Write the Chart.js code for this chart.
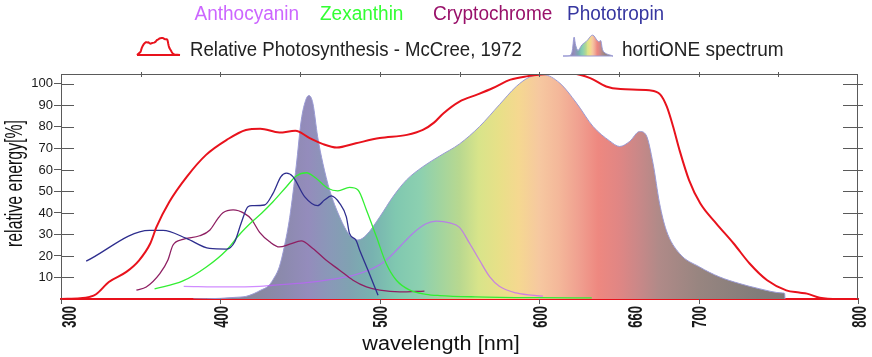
<!DOCTYPE html>
<html><head><meta charset="utf-8">
<script src="https://cdn.jsdelivr.net/npm/chart.js@4/dist/chart.umd.min.js"></script>
<style>html,body{margin:0;padding:0;background:#fff;overflow:hidden}canvas{display:block}</style>
</head><body>
<canvas id="c" width="872" height="357"></canvas>
<script>
// ---------- data ----------
const xTickLabels = [300, 400, 500, 600, 660, 700, 800];
const yTickValues = [10, 20, 30, 40, 50, 60, 70, 80, 90, 100];
const legendTop = ['Anthocyanin', 'Zexanthin', 'Cryptochrome', 'Phototropin'];
const legendMcCree = 'Relative Photosynthesis - McCree, 1972';
const legendSpectrum = 'hortiONE spectrum';
const xTitle = 'wavelength [nm]';
const yTitle = 'relative energy[%]';

const mccreeNm  = [300,312,318,322,330,341,349,356,360,368,379,391,404,416,425,437,447,456,464,473,485,500,517,527,534,540,550,561,571,582,592,609,621,632,642,651,669,676,680,684,688,694,701,711,722,732,743,755,763,768,776,788,800];
const mccreeVal = [0,0.3,1,2.2,7.9,12.6,18,25.8,33.6,45.2,56.9,67,74,78.6,79.2,77.4,78.2,74.8,72.1,70.4,72.4,74.8,76.3,78.6,82,86.4,91.8,95,98.1,102,103.5,104.7,104.7,102.7,98.8,97.6,97,95,89.5,80.2,69.3,55.3,44.5,35.2,25.8,16.5,8.7,4,3,2.5,0.6,0,0];

const spectrumNm  = [383,400,410,416,421,425,430,433,437,440,443.5,447.6,450.7,453.8,455.6,458,461,464.3,468.5,474.8,481,486.3,491.5,500,508.3,516.7,527,537.6,550,562.6,575,585.6,594,602.4,612.9,623.4,633.8,644.2,650.5,656.8,663,667,671.4,675.5,679.7,688,700.6,713,725.6,738,752.8,754,754.2];
const spectrumVal = [0,0.3,0.8,1.2,2.5,4,6,9,15,24,38,62,83,93,94.6,91,75.5,63,50.7,38.2,29.7,27.4,29.7,38.2,47.6,55.3,61.5,66.5,72.1,80.2,90.3,98.8,103.2,104.3,100.4,91.1,80.2,73.5,70.9,73.3,77.9,76.3,63.1,44.5,32,21.2,14.9,10.3,7.2,4.8,2.8,2.6,0];

const phototropinNm  = [315.8,355.6,364,378.6,393.2,403.8,409,413,417.3,420,427.7,433,438,441.4,445.5,452.8,461,465.3,469.5,474.8,479,481,485,487.4,492.6,498.9];
const phototropinVal = [17.6,31.9,31.9,28.2,23.5,23.2,26.6,35.2,42.9,43.4,43.7,49.1,56.9,58.5,56.9,47.6,43.4,46,47.9,44.5,38.2,30.5,27.4,22.7,13.4,1.7];

const zexanthinNm  = [358.7,376.5,391.2,403.8,412,420,426,433,441.4,447.6,454,460,467.4,473.7,481,486.3,491.6,497.9,504,510.4,518.8,529,537.6,560,600,633];
const zexanthinVal = [4.7,8.4,14.9,22.7,30,36,40,45.2,52.2,57.2,58.7,56.1,51.5,50.3,51.9,50.7,41.4,28.9,16.5,8.7,4.1,2.2,1.6,1,0.6,0.5];

const cryptochromeNm  = [347.3,353.5,362,367,370.2,376.5,387,393.3,398.5,401.6,408,415,419.5,424.6,430.9,437,443.5,450.7,458,466.4,474.8,483.2,491.6,500,512.5,528];
const cryptochromeVal = [4.1,5.6,11.8,18,25,27.7,29.4,32,37.5,40.1,41.4,39.8,37,31,26.6,24.2,25.5,27,23.5,18,13.4,8.7,5.6,4.1,3.3,3.7];

const anthocyaninNm  = [377,404,424.6,433,454,468.5,483.2,495.7,504,512.4,520.7,529,535.4,543.8,550,556.4,562.6,569,575,585.6,602.3];
const anthocyaninVal = [5.9,5.6,5.9,6.4,7.6,9,11,14.2,18,24.2,30.5,35,36.2,35.4,33.3,25.8,18,10.3,5.9,2.8,1.3];

// ---------- styles ----------
const FONT = '"Liberation Sans", Arial, sans-serif';
const colAntho = 'rgba(190,95,255,0.72)';
const colZex = '#33ee33';
const colCrypto = '#8e1f62';
const colPhoto = '#2e2e8e';
const colRed = '#e8121c';
const legendColors = ['#cc66ff', '#33ff33', '#99116a', '#3636a0'];
const gradStops = [
  [380,'#7c7a92'],[420,'#88889e'],[440,'#8c8aae'],[455,'#948cbc'],[468,'#8a98b8'],
  [481,'#80a2b2'],[495,'#78b2b0'],[510,'#80c8b0'],[525,'#8cd0b0'],[537,'#a0d4a0'],
  [550,'#b8d890'],[562,'#d8e48a'],[575,'#e8e088'],[587,'#f5d890'],[600,'#f6c8a0'],
  [612,'#f4b89a'],[625,'#f0a090'],[637,'#ee8880'],[650,'#e08684'],[663,'#c88888'],
  [675,'#b08a88'],[700,'#988580'],[737,'#827c7a'],[760,'#7a7878']
];

const pts = (xs, ys) => xs.map((v, i) => ({x: v, y: ys[i]}));

function makeGradient(ctx, x0, x1, nmMin, nmMax) {
  const g = ctx.createLinearGradient(x0, 0, x1, 0);
  gradStops.forEach(([nm, c]) => {
    const t = (nm - nmMin) / (nmMax - nmMin);
    if (t >= 0 && t <= 1) g.addColorStop(t, c);
  });
  return g;
}

function txt(ctx, s, x, y, o) {
  ctx.save();
  ctx.translate(x, y);
  if (o.rot) ctx.rotate(o.rot);
  ctx.scale(o.sx || 1, 1);
  ctx.font = o.font;
  ctx.fillStyle = o.color || '#222';
  ctx.textAlign = o.align || 'left';
  ctx.textBaseline = o.baseline || 'alphabetic';
  ctx.fillText(s, 0, 0);
  ctx.restore();
}

const decor = {
  id: 'decor',
  afterDraw(chart) {
    const {ctx, chartArea: a, scales: {x, y}} = chart;
    ctx.save();
    ctx.strokeStyle = '#5a5a5a';
    ctx.lineWidth = 1;
    const line = (x1, y1, x2, y2) => { ctx.beginPath(); ctx.moveTo(x1, y1); ctx.lineTo(x2, y2); ctx.stroke(); };
    // top & right borders
    line(a.left, a.top + 0.5, a.right, a.top + 0.5);
    line(a.right - 0.5, a.top, a.right - 0.5, a.bottom);
    // y ticks (inner left, right side)
    yTickValues.forEach(v => {
      const py = Math.round(y.getPixelForValue(v)) + 0.5;
      line(a.left, py, a.left + 13, py);
      line(a.right - 15, py, a.right + 5, py);
    });
    // top ticks
    for (let nm = 350; nm <= 750; nm += 50) {
      const px = Math.round(x.getPixelForValue(nm)) + 0.5;
      line(px, a.top - 2, px, a.top + 3);
    }
    // bottom ticks
    for (let nm = 300; nm <= 800; nm += 100) {
      const px = Math.round(x.getPixelForValue(nm)) + 0.5;
      line(px, a.bottom, px, a.bottom + 5);
    }
    // x tick labels (rotated, condensed)
    xTickLabels.forEach(v => {
      const px = x.getPixelForValue(v) + (v === 300 ? 7 : 0);
      txt(ctx, String(v), px + 7.5, a.bottom + 7, {font: 'bold 21px ' + FONT, sx: 0.62, rot: -Math.PI / 2, align: 'right', color: '#1a1a1a'});
    });
    // axis titles
    txt(ctx, xTitle, 441, 350, {font: '20px ' + FONT, sx: 1.08, align: 'center', color: '#111'});
    txt(ctx, yTitle, 21.8, 183.5, {font: '23px ' + FONT, sx: 0.69, rot: -Math.PI / 2, align: 'center', color: '#111'});
    // legend row 1
    const lx = [194.5, 320, 433, 567];
    legendTop.forEach((s, i) => txt(ctx, s, lx[i], 20, {font: '20px ' + FONT, sx: 0.95, color: legendColors[i]}));
    // legend row 2
    txt(ctx, legendMcCree, 190, 56, {font: '20px ' + FONT, sx: 0.93, color: '#222'});
    txt(ctx, legendSpectrum, 622, 56, {font: '20px ' + FONT, sx: 0.95, color: '#222'});
    // McCree icon
    const mapIcon = (nm, v, x0, x1, n0, n1, yb, yt) => [x0 + (nm - n0) / (n1 - n0) * (x1 - x0), yb - v / 105 * (yb - yt)];
    ctx.strokeStyle = colRed; ctx.lineWidth = 2;
    ctx.beginPath();
    ctx.moveTo(137, 55);
    mccreeNm.forEach((nm, i) => {
      if (nm < 345 || nm > 770) return;
      const [px, py] = mapIcon(nm, mccreeVal[i], 140, 175, 345, 770, 55, 38);
      ctx.lineTo(px, py);
    });
    ctx.lineTo(180, 55);
    ctx.lineTo(137, 55);
    ctx.stroke();
    // spectrum icon
    ctx.beginPath();
    ctx.moveTo(563, 56);
    spectrumNm.forEach((nm, i) => {
      const [px, py] = mapIcon(nm, spectrumVal[i], 565, 612, 383, 755, 56, 35);
      ctx.lineTo(px, py);
    });
    ctx.lineTo(613, 56);
    ctx.closePath();
    ctx.fillStyle = makeGradient(ctx, 565 + (380 - 383) / (755 - 383) * 47, 565 + (760 - 383) / (755 - 383) * 47, 380, 760);
    ctx.fill();
    ctx.strokeStyle = '#9a9ad4'; ctx.lineWidth = 1;
    ctx.stroke();
    ctx.restore();
  }
};

const lineDs = (label, xs, ys, color, width, order) => ({
  label, data: pts(xs, ys), borderColor: color, borderWidth: width, pointRadius: 0,
  fill: false, cubicInterpolationMode: 'monotone', order
});

new Chart(document.getElementById('c'), {
  type: 'line',
  data: {
    datasets: [
      lineDs('Relative Photosynthesis - McCree, 1972', mccreeNm, mccreeVal, colRed, 2, 0),
      lineDs('Phototropin', phototropinNm, phototropinVal, colPhoto, 1.3, 1),
      lineDs('Zexanthin', zexanthinNm, zexanthinVal, colZex, 1.3, 2),
      lineDs('Cryptochrome', cryptochromeNm, cryptochromeVal, colCrypto, 1.3, 3),
      lineDs('Anthocyanin', anthocyaninNm, anthocyaninVal, colAntho, 1.3, 4),
      {
        label: 'hortiONE spectrum', data: pts(spectrumNm, spectrumVal),
        borderColor: '#9a9ad4', borderWidth: 1, pointRadius: 0, cubicInterpolationMode: 'monotone',
        fill: 'origin', order: 9,
        backgroundColor: (c) => {
          const ch = c.chart; if (!ch.chartArea) return 'rgba(0,0,0,0)';
          const xs = ch.scales.x;
          return makeGradient(ch.ctx, xs.getPixelForValue(300), xs.getPixelForValue(800), 300, 800);
        }
      }
    ]
  },
  options: {
    responsive: false, animation: false, events: [],
    layout: {padding: {top: 74, left: 0, right: 14, bottom: 0}},
    plugins: {legend: {display: false}, tooltip: {enabled: false}},
    scales: {
      x: {
        type: 'linear', min: 300, max: 800,
        ticks: {display: false},
        grid: {display: false},
        border: {display: true, color: colRed, width: 2},
        afterFit(s) { s.height = 58; }
      },
      y: {
        min: 0, max: 104.6,
        ticks: {
          stepSize: 10, includeBounds: false, padding: 1,
          font: {family: FONT, size: 13}, color: '#1a1a1a',
          callback: v => (v > 0 && v <= 100) ? String(v) : ''
        },
        grid: {
          display: true, drawOnChartArea: false, drawTicks: true, tickLength: 7,
          color: c => (c.tick && c.tick.value > 0) ? '#5a5a5a' : 'rgba(0,0,0,0)'
        },
        border: {display: true, color: '#5a5a5a', width: 1},
        afterFit(s) { s.width = 61; }
      }
    }
  },
  plugins: [decor]
});
</script>
</body></html>
